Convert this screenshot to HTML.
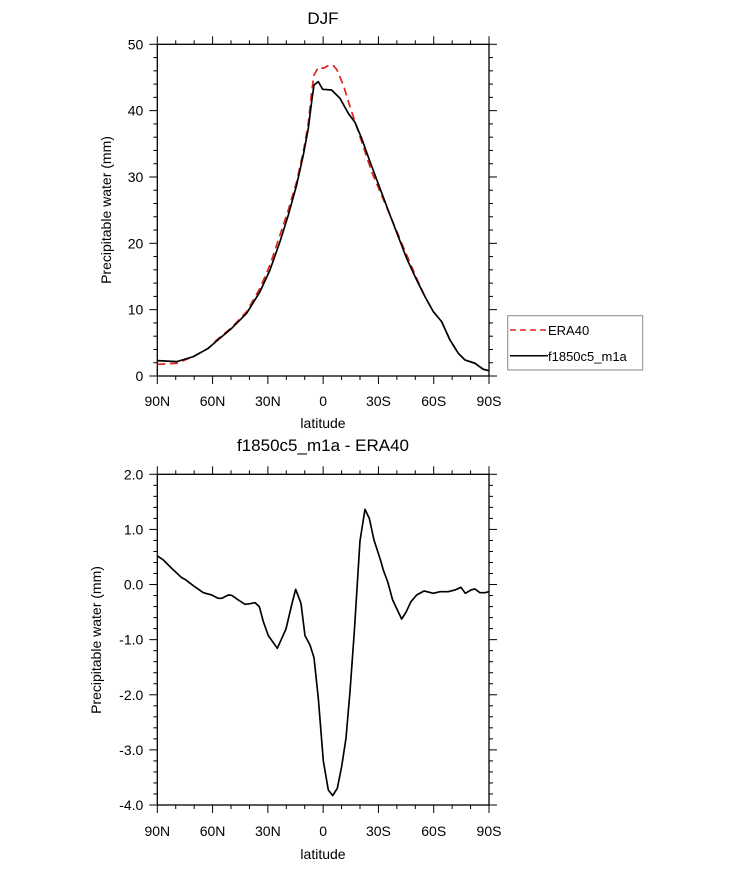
<!DOCTYPE html>
<html><head><style>body{margin:0;background:#fff}svg{display:block}text{font-family:"Liberation Sans",sans-serif;fill:#000}</style></head>
<body>
<svg width="733" height="869" viewBox="0 0 733 869" xmlns="http://www.w3.org/2000/svg">
<g id="ax"></g>
<text x="323" y="24" font-size="17" text-anchor="middle">DJF</text>
<text x="323" y="451" font-size="17" text-anchor="middle">f1850c5_m1a - ERA40</text>
<text x="323" y="428" font-size="14" text-anchor="middle">latitude</text>
<text x="323" y="859" font-size="14" text-anchor="middle">latitude</text>
<text transform="translate(111,210) rotate(-90)" font-size="14" text-anchor="middle">Precipitable water (mm)</text>
<text transform="translate(101,640) rotate(-90)" font-size="14" text-anchor="middle">Precipitable water (mm)</text>
<g transform="translate(150,35) scale(0.3333)" fill="none" stroke-linejoin="round">
<polyline stroke="#e0201a" stroke-width="5" stroke-dasharray="24,14" points="22,988 80,985 130,965 175,940 200,915 245,878 290,830 330,760 360,690 390,600 415,525 440,440 460,350 475,265 485,170 492,120 505,97 520,100 535,92 548,90 560,103 580,150 600,215 620,275 640,335 665,410 690,470 720,540 745,600 770,660 800,730 825,785 850,830 875,860 900,915 925,955 945,975 975,985 1000,1003 1017,1007"/>
<polyline stroke="#000" stroke-width="5" points="22,977 80,980 130,965 175,940 200,918 245,880 290,835 330,770 360,705 390,620 415,540 440,450 460,360 475,280 485,200 492,150 505,140 518,163 545,165 570,190 595,235 615,262 635,310 660,380 690,460 720,540 745,605 770,670 800,735 825,785 850,830 875,860 900,915 925,955 945,975 975,985 1000,1003 1017,1007"/>
</g>
<g transform="translate(150,465) scale(0.3333)" fill="none" stroke-linejoin="round">
<polyline stroke="#000" stroke-width="5" points="22,273 40,285 65,310 95,338 105,343 130,362 160,383 185,390 205,400 215,400 235,390 245,391 265,405 285,418 300,416 315,413 328,425 340,470 355,512 382,550 408,492 425,420 437,373 453,415 465,512 480,540 492,578 505,700 520,888 535,975 548,992 562,970 575,905 588,820 600,680 613,500 630,228 645,133 658,160 672,225 690,280 700,315 713,350 728,405 755,462 768,442 783,410 800,390 822,378 850,385 870,380 895,380 915,375 933,367 946,385 963,375 975,372 990,383 1005,383 1017,380"/>
</g>
<rect x="507.7" y="315.7" width="135" height="54.3" fill="none" stroke="#888" stroke-width="1"/>
<line x1="510" y1="330" x2="548" y2="330" stroke="#e0201a" stroke-width="1.5" stroke-dasharray="6,4"/>
<line x1="510" y1="355.7" x2="548" y2="355.7" stroke="#000" stroke-width="1.5"/>
<text x="548" y="335" font-size="13">ERA40</text>
<text x="548" y="361" font-size="13">f1850c5_m1a</text>
<script>
(function(){
var g=document.getElementById('ax'),ns='http://www.w3.org/2000/svg';
function el(t,a,tx){var e=document.createElementNS(ns,t);for(var k in a)e.setAttribute(k,a[k]);if(tx!=null)e.textContent=tx;g.appendChild(e);}
function ln(x1,y1,x2,y2){el('line',{x1:x1,y1:y1,x2:x2,y2:y2,stroke:'#000','stroke-width':1});}
var L=157.3,R=489,xl=['90N','60N','30N','0','30S','60S','90S'];
function frame(T,B,ymin,ymax,maj,minr,fmt,lblY){
 el('rect',{x:L,y:T,width:R-L,height:B-T,fill:'none',stroke:'#000','stroke-width':1.3});
 for(var i=0;i<=18;i++){var x=L+(R-L)*i/18,len=(i%3==0)?8:4;ln(x,T,x,T-len);ln(x,B,x,B+len);
  if(i%3==0)el('text',{x:x,y:lblY,'font-size':14,'text-anchor':'middle'},xl[i/3]);}
 var n=Math.round((ymax-ymin)/minr);
 for(var j=0;j<=n;j++){var v=ymin+j*minr,y=B-(B-T)*j/n,isM=Math.abs(v/maj-Math.round(v/maj))<1e-6,len=isM?8:4;
  ln(L,y,L-len,y);ln(R,y,R+len,y);
  if(isM)el('text',{x:L-14,y:y+5,'font-size':14,'text-anchor':'end'},fmt(v));}
}
frame(44.3,376,0,50,10,2,function(v){return Math.round(v)},406);
frame(474.3,805,-4,2,1,0.2,function(v){return (Math.round(v*10)/10).toFixed(1)},836);
})();
</script>
</svg>
</body></html>
